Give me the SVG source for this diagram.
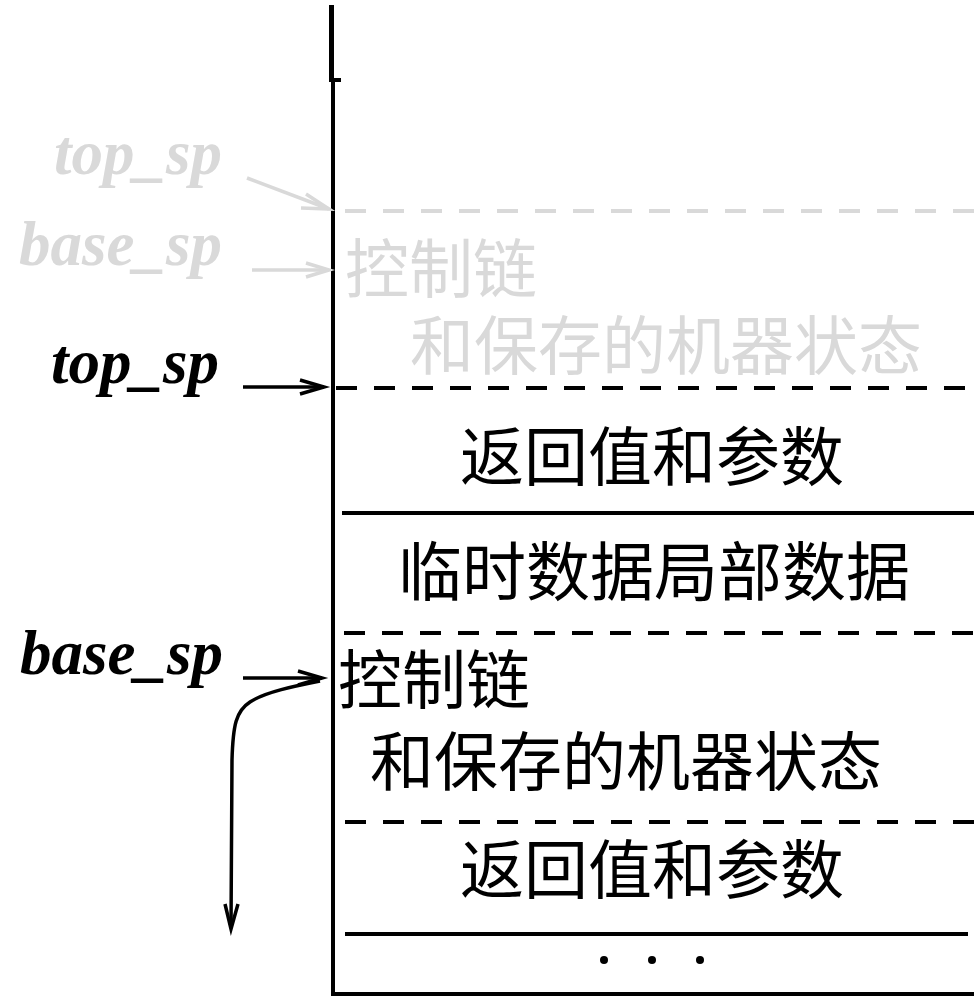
<svg xmlns="http://www.w3.org/2000/svg" width="974" height="998" viewBox="0 0 974 998">
<style>
.cn{font-family:"Noto Sans CJK SC","Noto Sans",sans-serif;font-size:64px}
.lb{font-family:"Liberation Serif","Times New Roman",serif;font-size:63px;font-weight:bold;font-style:italic;text-anchor:end}
.blk{fill:#000}
.gry{fill:#d9d9d9}
.dash{stroke-width:4;stroke-dasharray:21 17;fill:none}
.solid{stroke:#000;stroke-width:4;fill:none}
.arr{stroke-width:3.5;fill:none}
</style>
<rect width="974" height="998" fill="#fff"/>
<g id="frame">
<line x1="331.5" y1="5" x2="331.5" y2="80" stroke="#000" stroke-width="5"/>
<line x1="329" y1="80" x2="341" y2="80" stroke="#000" stroke-width="4"/>
<line x1="333" y1="80" x2="333" y2="996" stroke="#000" stroke-width="4"/>
<line x1="331" y1="994" x2="974" y2="994" stroke="#000" stroke-width="4"/>
</g>
<g id="separators">
<line class="dash" x1="345" y1="211" x2="974" y2="211" stroke="#d9d9d9"/>
<line class="dash" x1="336" y1="388" x2="974" y2="388" stroke="#000"/>
<line class="solid" x1="342" y1="513" x2="974" y2="513"/>
<line class="dash" x1="344" y1="633" x2="974" y2="633" stroke="#000"/>
<line class="dash" x1="345" y1="822" x2="974" y2="822" stroke="#000"/>
<line class="solid" x1="345" y1="934" x2="968" y2="934"/>
</g>
<g id="old-frame">
<text class="cn gry" x="345" y="292">控制链</text>
<text class="cn gry" x="410" y="369">和保存的机器状态</text>
</g>
<g id="frame-args">
<text class="cn blk" x="460" y="480">返回值和参数</text>
</g>
<g id="frame-locals">
<text class="cn blk" x="398" y="595">临时数据局部数据</text>
</g>
<g id="frame-control">
<text class="cn blk" x="338" y="703">控制链</text>
<text class="cn blk" x="370" y="785">和保存的机器状态</text>
</g>
<g id="frame-args2">
<text class="cn blk" x="460" y="893">返回值和参数</text>
</g>
<g id="ellipsis">
<circle cx="604" cy="960" r="4" fill="#000"/>
<circle cx="652" cy="960" r="4" fill="#000"/>
<circle cx="700" cy="960" r="4" fill="#000"/>
</g>
<g id="labels">
<text class="lb gry" x="222" y="174">top_sp</text>
<text class="lb gry" x="222" y="265">base_sp</text>
<text class="lb blk" x="219" y="383">top_sp</text>
<text class="lb blk" x="223" y="674">base_sp</text>
</g>
<g id="connectors">
<g stroke="#d9d9d9" class="arr">
<line x1="247" y1="178" x2="329" y2="209"/>
<polyline points="306,194 329,209 301,208"/>
<line x1="252" y1="270" x2="329" y2="270"/>
<polyline points="306,263 329,270 306,277"/>
</g>
<g stroke="#000" class="arr">
<line x1="243" y1="387" x2="324" y2="387"/>
<polyline points="300,380 324,387 300,394"/>
<line x1="243" y1="678" x2="322" y2="678"/>
<polyline points="298,671 322,678 298,685"/>
<path d="M320,681 C295,686 265,692 250,702 C236,711 233,725 232,760 L231,928"/>
<polyline points="225,904 231,929 238,904"/>
</g>
</g>
</svg>
